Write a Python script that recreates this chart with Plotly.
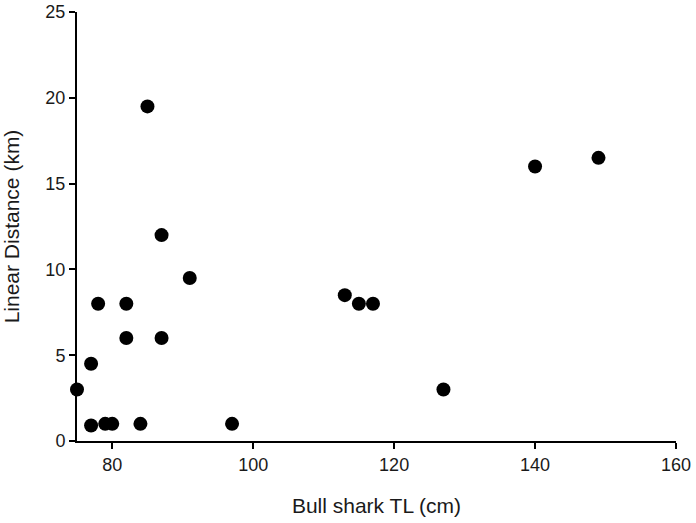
import plotly.graph_objects as go

# Bull shark total length (cm) vs linear distance moved (km)
shark_tl = [75, 77, 77, 78, 79, 80, 82, 82, 84, 85, 87, 87, 91, 97, 113, 115, 117, 127, 140, 149]
distance_km = [3, 0.9, 4.5, 8, 1, 1, 8, 6, 1, 19.5, 12, 6, 9.5, 1, 8.5, 8, 8, 3, 16, 16.5]

x_ticks = [80, 100, 120, 140, 160]
y_ticks = [0, 5, 10, 15, 20, 25]

fig = go.Figure()

fig.add_trace(
    go.Scatter(
        x=shark_tl,
        y=distance_km,
        mode="markers",
        marker=dict(color="black", size=14),
        cliponaxis=False,
    )
)

axis_style = dict(
    showline=True,
    linecolor="black",
    linewidth=2,
    ticks="outside",
    ticklen=6,
    tickwidth=2,
    tickcolor="black",
    showgrid=False,
    zeroline=False,
    automargin=False,
    tickfont=dict(family="Liberation Sans, Arial, sans-serif", size=18, color="#1a1a1a"),
)

fig.update_layout(
    template="plotly_white",
    width=696,
    height=523,
    showlegend=False,
    plot_bgcolor="white",
    paper_bgcolor="white",
    margin=dict(t=12, r=20, b=82, l=77),
    font=dict(family="Liberation Sans, Arial, sans-serif", size=18, color="#1a1a1a"),
    xaxis=dict(
        range=[75, 160],
        tickvals=x_ticks,
        title=dict(text="Bull shark TL (cm)", standoff=25, font=dict(size=21)),
        **axis_style,
    ),
    yaxis=dict(
        range=[0, 25],
        tickvals=y_ticks,
        title=dict(text="Linear Distance (km)", standoff=21, font=dict(size=21)),
        **axis_style,
    ),
)

# drop the default body margin so the figure sits flush in the window
fig.write_html(
    "out.html",
    config={"displayModeBar": False},
    post_script="document.body.style.margin='0';",
)
